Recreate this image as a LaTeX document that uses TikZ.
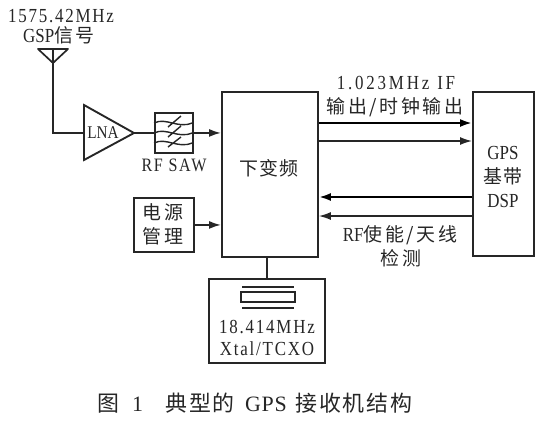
\documentclass[tikz,border=0pt]{standalone}
\usepackage{fontspec}
\setmainfont{Liberation Serif}[FakeStretch=0.85]
\newfontfamily\cjk{Noto Sans CJK SC}[LetterSpace=8]
\newfontfamily\cjkwide{Noto Sans CJK SC}[LetterSpace=14]
\newfontfamily\cjkcap{Noto Sans CJK SC}[LetterSpace=9]
\newfontfamily\lat{Liberation Serif}[FakeStretch=0.85,LetterSpace=9]
\newfontfamily\latwide{Liberation Serif}[FakeStretch=0.85,LetterSpace=14]
\newfontfamily\latcap{Liberation Serif}[LetterSpace=3]
\usetikzlibrary{arrows.meta}
\tikzset{
  box/.style={draw=black!85,line width=1.9pt,inner sep=0pt,anchor=north west},
  wire/.style={draw=black!85,line width=1.7pt},
  thin wire/.style={draw=black!85,line width=1.4pt},
  thick wire/.style={draw=black,line width=2.2pt},
  arr/.style={-{Latex[length=12pt,width=8pt]}},
  lab/.style={inner sep=0pt,align=center,font=\fontsize{20}{22}\selectfont,text=black!85},
}
\begin{document}
\begin{tikzpicture}[x=1bp,y=-1bp]
\useasboundingbox (0,0) rectangle (539,420);
% antenna
\coordinate (anttop) at (53,49);
\coordinate (antapex) at (53,63);
\coordinate (corner) at (53,133);
\draw[wire,line join=round] (38,49) -- (68,49) -- (antapex) -- cycle;
\draw[wire] (anttop) -- (antapex);
\node[lab] (freq) at (61,16) {\lat 1575.42MHz};
\node[lab] (gsp) at (59,35) {GSP{\cjkwide\fontsize{19}{20}\selectfont 信号}};
% LNA
\coordinate (lnain) at (84,133);
\coordinate (lnaout) at (134,133);
\draw[box] (84,105) -- (134,133) -- (84,160) -- cycle;
\node[lab,font=\fontsize{18}{19}\selectfont] (lna) at (103,133) {LNA};
\draw[wire] (antapex) -- (corner) -- (lnain);
% SAW
\node[box,minimum width=38bp,minimum height=40bp] (saw) at (154,112) {};
\draw[wire] (lnaout) -- (saw.west);
\draw[thin wire]
  (154,123) .. controls (166,117) and (178,129) .. (192,123)
  (154,133) .. controls (166,127) and (178,139) .. (192,133)
  (154,143) .. controls (166,137) and (178,149) .. (192,143)
  (168,127) -- (181,116)
  (168,137) -- (181,126)
  (168,147) -- (181,137);
\node[lab,font=\fontsize{19}{22}\selectfont] (sawlab) at (174,165) {\lat RF\hspace{.3em}SAW};
% down converter
\node[box,minimum width=96bp,minimum height=165bp] (down) at (221,91) {};
\node[lab,font=\fontsize{19}{22}\selectfont] at (269,168) {\cjk 下变频};
\draw[wire,arr] (saw.east) -- (down.west |- saw.east);
% power
\node[box,minimum width=60bp,minimum height=54bp] (power) at (133,197) {};
\node[lab,font=\fontsize{19}{24}\selectfont] at (163,224) {{\cjk 电}\hspace{.15em}{\cjk 源}\\{\cjk 管}\hspace{.15em}{\cjk 理}};
\draw[wire,arr] (power.east) -- (down.west |- power.east);
% crystal box
\node[box,minimum width=116bp,minimum height=84bp] (xtal) at (208,278) {};
\draw[wire] (down.south -| xtal.north) -- (xtal.north);
\draw[wire] (242,287) -- (294,287) (242,308) -- (294,308);
\draw[wire] (241,292) rectangle (295,302);
\node[lab] at (267,338) {\lat 18.414MHz\\\lat Xtal/TCXO};
% DSP
\node[box,minimum width=61bp,minimum height=164bp] (dsp) at (472,91) {};
\node[lab,font=\fontsize{20}{24.5}\selectfont] at (503,177) {GPS\\{\cjk\fontsize{19}{24.5}\selectfont 基带}\\DSP};
% links
\draw[thick wire,arr] (down.east |- 0,123) -- (dsp.west |- 0,123);
\draw[thin wire,arr] (down.east |- 0,141) -- (dsp.west |- 0,141);
\draw[thick wire,arr] (dsp.west |- 0,197) -- (down.east |- 0,197);
\draw[thin wire,arr] (dsp.west |- 0,216) -- (down.east |- 0,216);
\node[lab] at (396,83) {\latwide 1.023MHz\hspace{.4em}IF};
\node[lab,font=\fontsize{19}{22}\selectfont] at (395,107) {\cjkwide 输出/时钟输出};
\node[lab] at (400,235) {RF{\cjkwide\fontsize{19}{22}\selectfont 使能/天线}};
\node[lab,font=\fontsize{19}{22}\selectfont] at (401,258) {\cjkwide 检测};
% caption
\node[lab,anchor=west,font=\fontsize{22}{24}\selectfont] at (97,403) {\makebox[35bp][l]{\cjkcap 图}\makebox[33bp][l]{\latcap 1}\makebox[80bp][l]{\cjkcap 典型的}\makebox[50bp][l]{\latcap GPS}{\cjkcap 接收机结构}};
\end{tikzpicture}
\end{document}
